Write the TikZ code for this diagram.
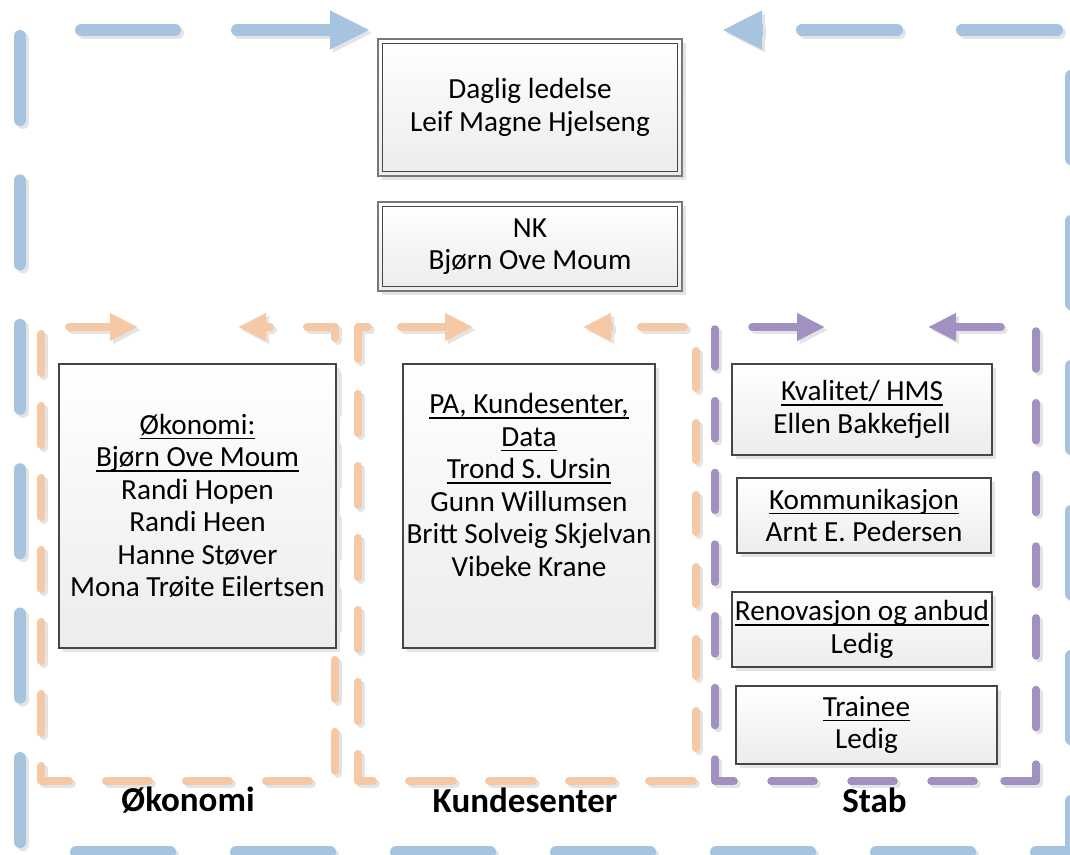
\documentclass[tikz,border=0pt]{standalone}
\usepackage{fontspec}
\setmainfont{Carlito}
\usetikzlibrary{arrows.meta,shadows}
\definecolor{frBlue}{RGB}{166,195,223}
\definecolor{frOrange}{RGB}{246,201,166}
\definecolor{frPurple}{RGB}{161,145,193}
\definecolor{shd}{RGB}{228,228,228}
\definecolor{boxline}{RGB}{70,70,70}
\definecolor{boxlineout}{RGB}{120,120,120}
\definecolor{boxbot}{RGB}{236,236,236}
\newcommand{\myul}[1]{\setbox0\hbox{#1}\rlap{\rule[-4.8pt]{\wd0}{1.3pt}}\box0}
% draw one frame dash with its light grey shadow
\newcommand{\frseg}[2]{%
  \draw[#1, draw=shd, shift={(3pt,-3pt)}] #2;
  \draw[#1] #2;}
\tikzset{
  frm/.style={line width=#1, line cap=round, line join=round},
  bluefr/.style={frm=12pt, draw=frBlue},
  orfr/.style={frm=8pt, draw=frOrange},
  pufr/.style={frm=7.5pt, draw=frPurple},
  bigtip/.style={-{Triangle[length=40pt,width=36pt]}},
  smalltip/.style={-{Triangle[length=28pt,width=26pt]}},
  box/.style={draw=boxline, line width=1.1pt, top color=white, bottom color=boxbot,
    inner sep=0pt, align=center, font=\fontsize{29.2}{32.5}\selectfont,
    drop shadow={shadow xshift=4pt, shadow yshift=-4pt, fill=shd, opacity=1}},
  topbox/.style={box, draw=boxlineout},
  grouplabel/.style={font=\bfseries\fontsize{35}{40}\selectfont, inner sep=0pt}
}
\begin{document}
\begin{tikzpicture}[x=1pt,y=-1pt]
\useasboundingbox (0,0) rectangle (1070,854);
\clip (0,0) rectangle (1070,854);
\fill[white] (0,0) rectangle (1070,854);

% ---- outer blue frame
\foreach \k in {0,...,5}{\frseg{bluefr}{(20,{36+144.4*\k}) -- (20,{120+144.4*\k})}}
\foreach \k in {0,...,5}{\frseg{bluefr}{({76+160*\k},852) -- ({170+160*\k},852)}}
\frseg{bluefr}{(1036,852) -- (1071,852)}
\foreach \k in {0,...,4}{\frseg{bluefr}{(1071,{76+145*\k}) -- (1071,{159+145*\k})}}
\frseg{bluefr}{(1071,801) -- (1071,852)}
\frseg{bluefr}{(81,30) -- (175,30)}
\frseg{bluefr, bigtip}{(237,30) -- (370,30)}
\frseg{bluefr}{(1057,30) -- (962,30)}
\frseg{bluefr}{(897,30) -- (802,30)}
\frseg{bluefr, line cap=butt, bigtip}{(763,30) -- (722,30)}

% ---- orange frame: Okonomi
\foreach \k in {0,...,5}{\frseg{orfr}{(41,{334+72*\k}) -- (41,{373+72*\k})}}
\frseg{orfr}{(41,766) -- (41,781) -- (69,781)}
\foreach \k in {0,...,2}{\frseg{orfr}{({106+80*\k},781) -- ({149+80*\k},781)}}
\frseg{orfr}{(307,327) -- (335,327) -- (335,338)}
\foreach \k in {0,...,5}{\frseg{orfr}{(335,{372+72*\k}) -- (335,{411+72*\k})}}
\frseg{orfr, smalltip}{(69,327) -- (138,327)}
\frseg{orfr, smalltip}{(270,327) -- (238,327)}

% ---- orange frame: Kundesenter
\frseg{orfr}{(368,327) -- (358,327) -- (358,359)}
\foreach \k in {0,...,4}{\frseg{orfr}{(358,{394+72*\k}) -- (358,{433+72*\k})}}
\frseg{orfr}{(358,754) -- (358,781) -- (373,781)}
\foreach \k in {0,...,3}{\frseg{orfr}{({409+80*\k},781) -- ({453+80*\k},781)}}
\foreach \k in {0,...,5}{\frseg{orfr}{(696,{351+72*\k}) -- (696,{388+72*\k})}}
\frseg{orfr}{(641,327) -- (684,327)}
\frseg{orfr, smalltip}{(401,327) -- (473,327)}
\frseg{orfr, line cap=butt, smalltip}{(613,327) -- (583,327)}

% ---- purple frame: Stab
\foreach \k in {0,...,5}{\frseg{pufr}{(715,{329+71.7*\k}) -- (715,{367+71.7*\k})}}
\frseg{pufr}{(715,759) -- (715,781) -- (734,781)}
\foreach \k in {0,...,2}{\frseg{pufr}{({771+80*\k},781) -- ({814+80*\k},781)}}
\frseg{pufr}{(1004,781) -- (1036,781) -- (1036,764)}
\foreach \k in {0,...,5}{\frseg{pufr}{(1036,{331+71.7*\k}) -- (1036,{369+71.7*\k})}}
\frseg{pufr, smalltip}{(752,327) -- (825,327)}
\frseg{pufr, smalltip}{(1001,327) -- (928,327)}

% ---- boxes
\node[topbox, minimum width=304pt, minimum height=137pt] (dl) at (530,107.5)
  {Daglig ledelse\\Leif Magne Hjelseng};
\draw[boxline, line width=1.1pt] ([shift={(5pt,-5pt)}]dl.north west) rectangle ([shift={(-5pt,5pt)}]dl.south east);
\node[topbox, minimum width=304pt, minimum height=89pt] (nk) at (530,246.5)
  {NK\\Bjørn Ove Moum};
\draw[boxline, line width=1.1pt] ([shift={(5pt,-5pt)}]nk.north west) rectangle ([shift={(-5pt,5pt)}]nk.south east);

\node[box, minimum width=277pt, minimum height=284pt] (oko) at (197.5,506)
  {\myul{Økonomi:}\\\myul{Bjørn Ove Moum}\\Randi Hopen\\Randi Heen\\Hanne Støver\\Mona Trøite Eilertsen};
\node[box, minimum width=252pt, minimum height=284pt] (kund) at (529,506)
  {\myul{PA, Kundesenter,}\\\myul{Data}\\\myul{Trond S. Ursin}\\Gunn Willumsen\\Britt Solveig Skjelvan\\Vibeke Krane\\\strut};
\node[box, minimum width=260pt, minimum height=91pt] (kval) at (862,409.5)
  {\myul{Kvalitet/ HMS}\\Ellen Bakkefjell};
\node[box, minimum width=254pt, minimum height=75pt] (komm) at (864,515.5)
  {\myul{Kommunikasjon}\\Arnt E. Pedersen};
\node[box, minimum width=260pt, minimum height=75pt] (reno) at (862,629.5)
  {\myul{Renovasjon og anbud}\\Ledig};
\node[box, minimum width=261pt, minimum height=78pt] (trai) at (866.5,725)
  {\myul{Trainee}\\Ledig};

% ---- group labels
\node[grouplabel] (lo) at (188,800) {Økonomi};
\node[grouplabel] (lk) at (525,800) {Kundesenter};
\node[grouplabel] (ls) at (874.5,800) {Stab};
\end{tikzpicture}
\end{document}
